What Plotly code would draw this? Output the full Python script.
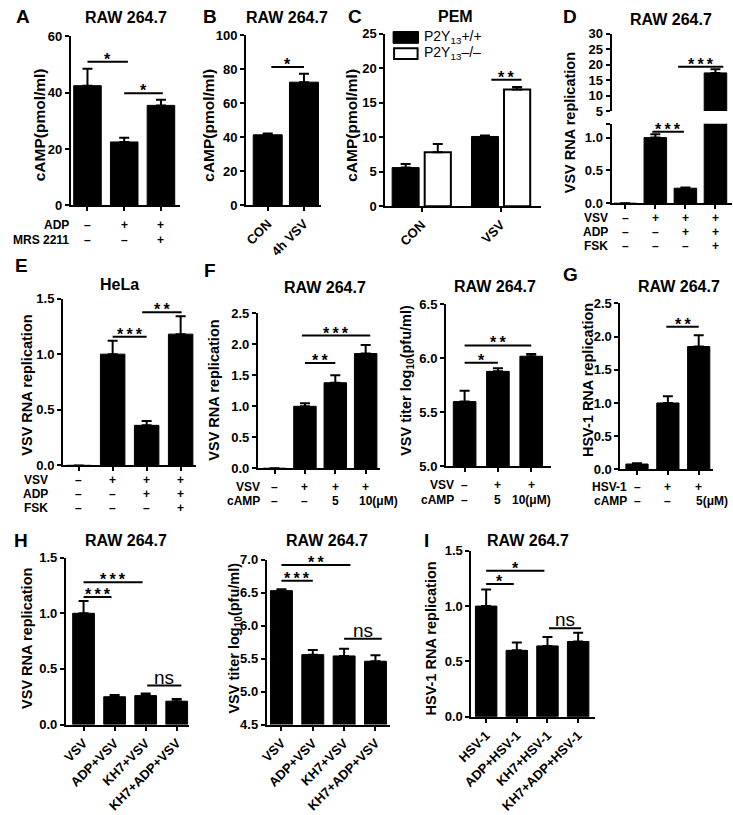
import plotly.graph_objects as go

# ---------------- data ----------------
A_vals = [42.5, 22.5, 35.5]; A_sem = [6.0, 1.5, 2.0]
B_cats = ["CON", "4h VSV"]; B_vals = [41.5, 72.5]; B_sem = [0.8, 5.0]
C_cats = ["CON", "VSV"]
C_wt = [5.6, 10.1]; C_wt_sem = [0.5, 0.15]
C_ko = [7.8, 16.9]; C_ko_sem = [1.2, 0.35]
D_vals = [0.0, 1.0, 0.23, 17.3]; D_sem = [0.0, 0.05, 0.01, 1.2]
E_vals = [0.0, 1.0, 0.36, 1.18]; E_sem = [0.0, 0.12, 0.04, 0.16]
F1_vals = [0.0, 1.0, 1.38, 1.85]; F1_sem = [0.0, 0.05, 0.12, 0.14]
F2_vals = [5.6, 5.88, 6.02]; F2_sem = [0.1, 0.03, 0.02]
G_vals = [0.08, 1.0, 1.85]; G_sem = [0.01, 0.1, 0.17]
H_cats = ["VSV", "ADP+VSV", "KH7+VSV", "KH7+ADP+VSV"]
H1_vals = [1.0, 0.25, 0.26, 0.21]; H1_sem = [0.11, 0.015, 0.02, 0.02]
H2_vals = [6.53, 5.56, 5.54, 5.46]; H2_sem = [0.02, 0.07, 0.11, 0.09]
I_cats = ["HSV-1", "ADP+HSV-1", "KH7+HSV-1", "KH7+ADP+HSV-1"]
I_vals = [1.0, 0.6, 0.64, 0.68]; I_sem = [0.15, 0.07, 0.08, 0.08]

A_rows = [("ADP", ["–", "+", "+"]), ("MRS 2211", ["–", "–", "+"])]
D_rows = [("VSV", ["–", "+", "+", "+"]), ("ADP", ["–", "–", "+", "+"]), ("FSK", ["–", "–", "–", "+"])]
E_rows = D_rows
F1_rows = [("VSV", ["–", "+", "+", "+"]), ("cAMP", ["–", "–", "5", "10(μM)"])]
F2_rows = [("VSV", ["–", "+", "+"]), ("cAMP", ["–", "5", "10(μM)"])]
G_rows = [("HSV-1", ["–", "+", "+"]), ("cAMP", ["–", "–", "5(μM)"])]

# ---------------- layout helpers ----------------
W, H = 733, 815
FONT = "Liberation Sans"
def px(x): return x / W
def py(y): return 1 - y / H

fig = go.Figure()
layout = dict(width=W, height=H, margin=dict(l=0, r=0, t=0, b=0),
              paper_bgcolor="white", plot_bgcolor="rgba(0,0,0,0)",
              barmode="overlay", showlegend=False,
              font=dict(family=FONT, color="black"))
annotations = []
shapes = []

def axis_common():
    return dict(showline=True, linewidth=2, linecolor="black", ticks="outside",
                ticklen=4, tickwidth=2, tickcolor="black", showgrid=False,
                zeroline=False, fixedrange=True,
                tickfont=dict(family=FONT, size=13, color="black", weight="bold"))

def make_axes(n, x0, x1, yt, yb, c0, dc, ncat, yr, yticks, yfmt, ynum=None,
              xlabels=None):
    ynum = ynum or n
    xa = axis_common()
    xa.update(domain=[px(x0), px(x1)], range=[(x0 - c0) / dc, (x1 - c0) / dc],
              anchor=f"y{ynum}", tickvals=list(range(ncat)))
    if xlabels is None:
        xa.update(showticklabels=False)
    else:
        xa.update(ticktext=xlabels, tickangle=-45)
    ya = axis_common()
    ya.update(domain=[py(yb), py(yt)], range=yr, anchor=f"x{n}",
              tickvals=yticks, ticktext=[yfmt.format(v) for v in yticks])
    layout[f"xaxis{n}"] = xa
    layout[f"yaxis{ynum}"] = ya

def bars(n, vals, sem, bw, ynum=None, color="black", lw=1, offset=None):
    ynum = ynum or n
    kw = {}
    if offset is not None:
        kw["offset"] = offset
    fig.add_trace(go.Bar(
        x=list(range(len(vals))), y=vals, width=bw,
        marker=dict(color=color, line=dict(color="black", width=lw)),
        error_y=dict(type="data", array=sem, arrayminus=[0] * len(vals),
                     symmetric=False, color="black", thickness=2, width=5),
        xaxis=f"x{n}", yaxis=f"y{ynum}", hoverinfo="skip", **kw))

def sig(n, xa, xb, y, txt, ynum=None):
    ynum = ynum or n
    shapes.append(dict(type="line", xref=f"x{n}", yref=f"y{ynum}", x0=xa, x1=xb,
                       y0=y, y1=y, line=dict(color="black", width=2)))
    if txt == "ns":
        annotations.append(dict(xref=f"x{n}", yref=f"y{ynum}", x=(xa + xb) / 2, y=y,
                                text="ns", showarrow=False, yanchor="bottom", yshift=-4,
                                font=dict(size=19, family=FONT)))
    else:
        t = "\u2009".join(["*"] * len(txt))
        annotations.append(dict(xref=f"x{n}", yref=f"y{ynum}", x=(xa + xb) / 2, y=y,
                                text=f"<b>{t}</b>", showarrow=False, yanchor="bottom",
                                yshift=-8, font=dict(size=16, family=FONT)))

def text(x, y, t, size=12, bold=True, xanchor="center", angle=0):
    annotations.append(dict(xref="paper", yref="paper", x=px(x), y=py(y),
                            text=(f"<b>{t}</b>" if bold else t), showarrow=False,
                            xanchor=xanchor, yanchor="middle", textangle=angle,
                            font=dict(size=size, family=FONT, color="black")))

def rows(n, rowdefs, labx, ys, xshift_last=0, anchor_last="center"):
    for (lab, signs), yy in zip(rowdefs, ys):
        text(labx, yy, lab, size=12, xanchor="right")
        for i, s in enumerate(signs):
            last = len(s) > 1
            annotations.append(dict(xref=f"x{n}", yref="paper", x=i, y=py(yy),
                                    text=f"<b>{s}</b>", showarrow=False,
                                    xanchor=(anchor_last if last else "center"),
                                    xshift=(xshift_last if last else 0),
                                    yanchor="middle",
                                    font=dict(size=12, family=FONT)))

# ---------------- Panel A ----------------
make_axes(1, 57, 168, 30, 202, 74, 37.5, 3, [0, 60], [0, 20, 40, 60], "{:.0f}")
bars(1, A_vals, A_sem, 0.75)
sig(1, 0, 1.1, 51, "*"); sig(1, 1.0, 2.05, 39.8, "*")
rows(1, A_rows, 57, [222, 237])
text(113, 11, "RAW 264.7", 16); text(8, 10, "A", 19)
text(25, 120, "cAMP(pmol/ml)", 15.5, angle=-90)

# ---------------- Panel B ----------------
make_axes(2, 236, 312, 29, 202, 258, 37, 2, [0, 100], [0, 20, 40, 60, 80, 100], "{:.0f}",
          xlabels=B_cats)
bars(2, B_vals, B_sem, 0.8)
sig(2, 0.1, 1.0, 81.5, "*")
text(278, 11, "RAW 264.7", 16); text(199, 10, "B", 19)
text(198, 120, "cAMP(pmol/ml)", 15.5, angle=-90)

# ---------------- Panel C ----------------
make_axes(3, 378, 537, 27, 203, 415, 81, 2, [0, 25], [0, 5, 10, 15, 20, 25], "{:.0f}",
          xlabels=C_cats)
bars(3, C_wt, C_wt_sem, 0.34, offset=-0.37)
bars(3, C_ko, C_ko_sem, 0.33, color="white", lw=2, offset=0.04)
sig(3, 0.88, 1.26, 18.3, "**")
text(450, 10, "PEM", 16); text(347, 10, "C", 19)
text(344, 120, "cAMP(pmol/ml)", 15.5, angle=-90)
shapes.append(dict(type="rect", xref="paper", yref="paper", x0=px(386), x1=px(412),
                   y0=py(37), y1=py(25), fillcolor="black", line=dict(color="black", width=1)))
shapes.append(dict(type="rect", xref="paper", yref="paper", x0=px(387), x1=px(411),
                   y0=py(53), y1=py(42), fillcolor="white", line=dict(color="black", width=2)))
text(416, 31, "P2Y<sub>13</sub>+/+", 14, bold=False, xanchor="left")
text(416, 47, "P2Y<sub>13</sub>–/–", 14, bold=False, xanchor="left")

# ---------------- Panel D (broken axis) ----------------
make_axes(4, 609, 732, 119, 200, 623, 30.7, 4, [0, 1.21], [0, 0.5, 1.0, 1.21], "{:.1f}")
layout["yaxis4"]["ticktext"] = ["0.0", "0.5", "1.0", ""]
ya5 = axis_common()
ya5.update(domain=[py(106), py(27)], range=[5, 30], anchor="x4",
           tickvals=[5, 10, 15, 20, 25, 30], ticktext=["5", "10", "15", "20", "25", "30"])
layout["yaxis5"] = ya5
bars(4, D_vals, [0, D_sem[1], D_sem[2], 0], 0.75)
bars(4, D_vals, D_sem, 0.75, ynum=5)
sig(4, 0.9, 1.95, 1.09, "***")
sig(4, 1.76, 3.26, 19.3, "***", ynum=5)
rows(4, D_rows, 607, [215, 229, 243])
text(670, 13, "RAW 264.7", 16); text(567, 10, "D", 19)
text(566, 118, "VSV RNA replication", 14.5, angle=-90)

# ---------------- Panel E ----------------
make_axes(6, 49, 185, 297, 467, 65, 34.7, 4, [0, 1.5], [0, 0.5, 1.0, 1.5], "{:.1f}")
bars(6, E_vals, E_sem, 0.72)
sig(6, 1.0, 2.0, 1.156, "***"); sig(6, 1.87, 3.03, 1.376, "**")
rows(6, E_rows, 36, [482, 496, 510])
text(107, 283, "HeLa", 16); text(7, 263, "E", 19)
text(12, 385, "VSV RNA replication", 14.5, angle=-90)

# ---------------- Panel F (left) ----------------
make_axes(7, 248, 373, 312, 470, 265, 31, 4, [0, 2.5], [0, 0.5, 1.0, 1.5, 2.0, 2.5], "{:.1f}")
bars(7, F1_vals, F1_sem, 0.74)
sig(7, 1.0, 2.0, 1.70, "**"); sig(7, 0.9, 3.15, 2.14, "***")
rows(7, F1_rows, 252, [489, 503], xshift_last=-9, anchor_last="left")
text(316, 286, "RAW 264.7", 16); text(199, 268, "F", 19)
text(203, 390, "VSV RNA replication", 14.5, angle=-90)

# ---------------- Panel F (right) ----------------
make_axes(8, 440, 547, 303, 468, 459, 34, 3, [5, 6.5], [5.0, 5.5, 6.0, 6.5], "{:.1f}")
bars(8, F2_vals, F2_sem, 0.68)
sig(8, 0, 1.0, 5.96, "*"); sig(8, 0, 2.0, 6.12, "**")
rows(8, F2_rows, 450, [487, 502])
text(490, 285, "RAW 264.7", 16)
text(400, 380, "VSV titer log<sub>10</sub>(pfu/ml)", 14.5, angle=-90)

# ---------------- Panel G ----------------
make_axes(9, 618, 713, 302, 471, 635, 31.5, 3, [0, 2.5], [0, 0.5, 1.0, 1.5, 2.0, 2.5], "{:.1f}")
bars(9, G_vals, G_sem, 0.72)
sig(9, 0.95, 2.0, 2.15, "**")
rows(9, G_rows, 627, [489, 503], xshift_last=-5, anchor_last="left")
text(678, 285, "RAW 264.7", 16); text(567, 273, "G", 19)
text(585, 380, "HSV-1 RNA replication", 14.5, angle=-90)

# ---------------- Panel H (left) ----------------
make_axes(10, 52, 178, 561, 731, 70, 31.7, 4, [0, 1.5], [0, 0.5, 1.0, 1.5], "{:.1f}",
          xlabels=H_cats)
bars(10, H1_vals, H1_sem, 0.7)
sig(10, 0, 0.9, 1.147, "***"); sig(10, 0, 1.9, 1.28, "***"); sig(10, 2.05, 3.15, 0.35, "ns")
text(113, 544, "RAW 264.7", 16); text(6, 544, "H", 19)
text(12, 643, "VSV RNA replication", 14.5, angle=-90)

# ---------------- Panel H (right) ----------------
make_axes(11, 257, 383, 563, 731, 272, 32, 4, [4.5, 7.0], [4.5, 5.0, 5.5, 6.0, 6.5, 7.0], "{:.1f}",
          xlabels=H_cats)
bars(11, H2_vals, H2_sem, 0.7)
sig(11, 0, 1.0, 6.68, "***"); sig(11, 0, 2.2, 6.92, "**"); sig(11, 2.0, 3.2, 5.8, "ns")
text(319, 544, "RAW 264.7", 16)
text(225, 643, "VSV titer log<sub>10</sub>(pfu/ml)", 14.5, angle=-90)

# ---------------- Panel I ----------------
make_axes(12, 466, 592, 554, 723, 481, 31.3, 4, [0, 1.5], [0, 0.5, 1.0, 1.5], "{:.1f}",
          xlabels=I_cats)
bars(12, I_vals, I_sem, 0.7)
sig(12, 0, 0.9, 1.2, "*"); sig(12, 0, 1.9, 1.32, "*"); sig(12, 2.05, 3.1, 0.8, "ns")
text(524, 544, "RAW 264.7", 16); text(420, 544, "I", 19)
text(425, 643, "HSV-1 RNA replication", 14.5, angle=-90)

layout["annotations"] = annotations
layout["shapes"] = shapes
fig.update_layout(**layout)
fig.write_html("out.html", config={"displayModeBar": False},
               post_script="document.body.style.margin='0px';document.body.style.overflow='hidden';")
